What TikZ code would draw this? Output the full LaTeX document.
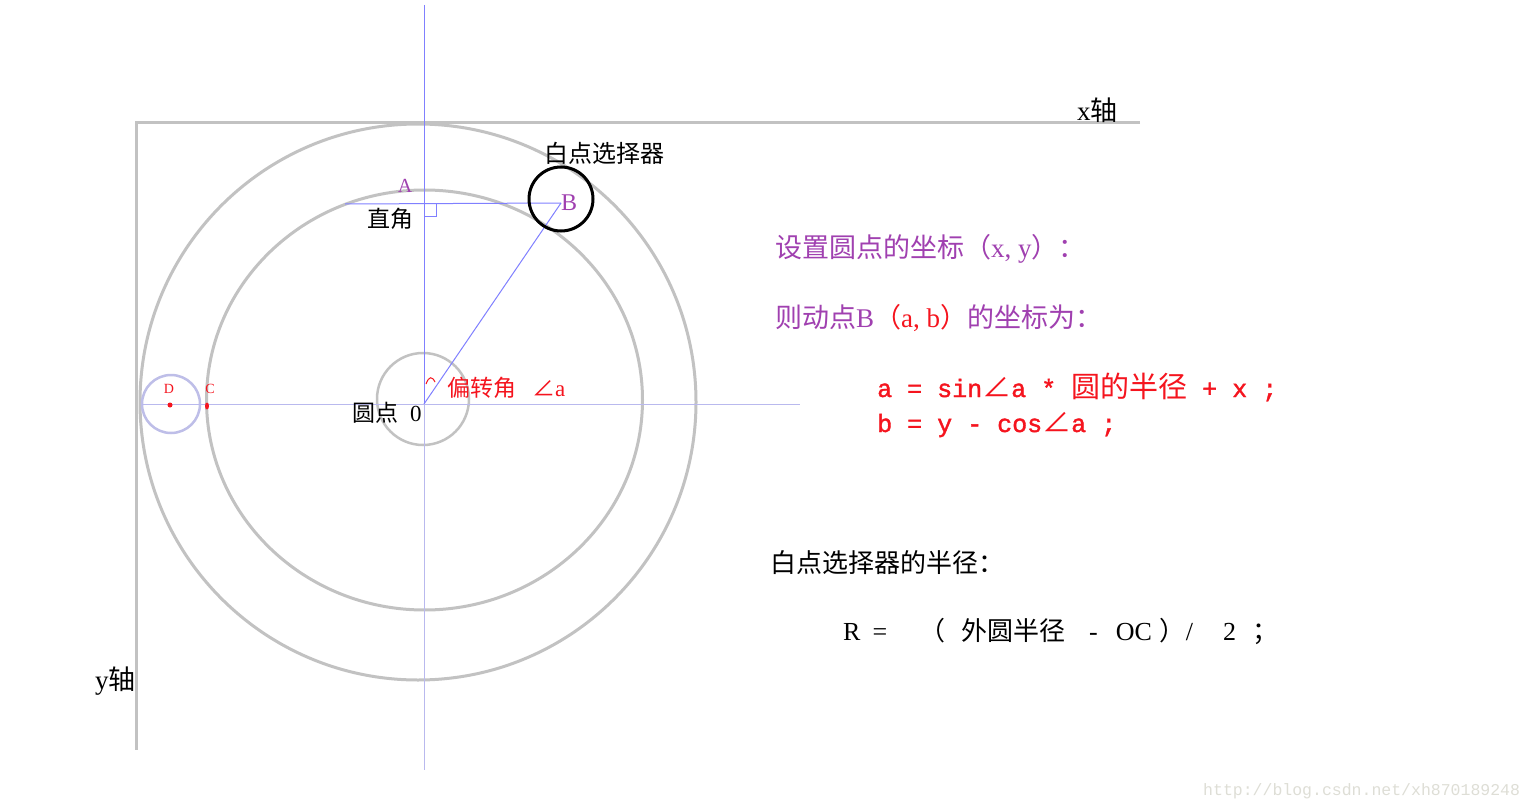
\documentclass[tikz,border=0pt]{standalone}
\usepackage{fontspec}
\setmainfont{Liberation Serif}
\setmonofont{Liberation Mono}
\newfontfamily\formfont{Liberation Mono}[FakeBold=1.5]
\newfontfamily\cjk{Noto Sans CJK SC}
\usetikzlibrary{shapes.geometric}
\definecolor{axisgray}{RGB}{194,194,194}
\definecolor{blueline}{RGB}{128,128,255}
\definecolor{lightblue}{RGB}{185,185,238}
\definecolor{lavcirc}{RGB}{190,190,232}
\definecolor{purp}{RGB}{160,64,176}
\definecolor{redt}{RGB}{245,20,30}
\definecolor{wmark}{RGB}{222,222,214}
\newcommand\cjt[1]{{\cjk #1}}
\tikzset{
  grayline/.style={draw=axisgray,line width=3pt},
  ringc/.style={circle,draw=axisgray,line width=3pt,inner sep=0pt,fill=none},
  thin blue/.style={draw=blueline,line width=1pt},
  thin light/.style={draw=lightblue,line width=1pt},
  lbl/.style={inner sep=0pt,anchor=base west},
  lblc/.style={inner sep=0pt,anchor=base},
  reddot/.style={fill=redt,draw=none,inner sep=0pt}
}
\begin{document}
\begin{tikzpicture}[x=1pt,y=-1pt]
\useasboundingbox[fill=white] (0,0) rectangle (1535,808);
% key points
\coordinate (O) at (424,404);
\coordinate (B) at (561,203);
\coordinate (Sc) at (561,199);
\coordinate (Vtop) at (424,5);
\coordinate (Vbot) at (424,770);
\coordinate (Hl) at (142,404);
\coordinate (Hr) at (800,404);
\coordinate (Hs) at (345,204);
\coordinate (RA1) at (424,216);
\coordinate (RA2) at (436,216);
\coordinate (RA3) at (436,204);
\coordinate (XA0) at (136,122);
\coordinate (XA1) at (1140,122);
\coordinate (YA1) at (136,750);
% axes
\draw[grayline] (XA1) -- (XA0) -- (YA1);
% circles
\node[ringc,minimum size=556pt] (outer) at (418,402) {};
\node[ellipse,draw=axisgray,line width=3pt,inner sep=0pt,minimum width=436pt,minimum height=420pt] (mid) at (424.5,400) {};
\node[ringc,minimum size=92pt,line width=2.5pt] (inner) at (423,399) {};
\node[circle,draw=lavcirc,line width=2.5pt,inner sep=0pt,minimum size=58pt] (dcirc) at (171,404) {};
% blue lines
\draw[thin blue] (Vtop) -- (O);
\draw[thin light] (O) -- (Vbot);
\draw[thin light] (Hl) -- (Hr);
\draw[thin blue] (Hs) -- (B);
\draw[thin blue] (O) -- (B);
\draw[thin blue] (RA1) -- (RA2) -- (RA3);
% angle mark
\coordinate (am1) at (426,384);
\coordinate (am2) at (435,382);
\draw[redt,line width=1pt] (am1) .. controls (429,376) and (432,376) .. (am2);
% selector circle
\node[circle,draw=black,line width=3pt,inner sep=0pt,minimum size=64pt] (sel) at (Sc) {};
% red dots
\node[reddot,circle,minimum size=5pt] (Ddot) at (170,405) {};
\node[reddot,ellipse,minimum width=4pt,minimum height=7pt] (Cdot) at (207,406) {};
% labels in diagram
\node[lblc,font=\cjk\fontsize{24}{28}\selectfont] (tsel) at (604,162) {白点选择器};
\node[lblc,text=purp,font=\fontsize{20}{24}\selectfont] (tA) at (405,192) {A};
\node[lblc,text=purp,font=\fontsize{24}{28}\selectfont] (tB) at (569,210) {B};
\node[lblc,font=\cjk\fontsize{23}{27}\selectfont] (tzj) at (390,227) {直角};
\node[lbl,text=redt,font=\fontsize{23}{27}\selectfont] (tang) at (447,396) {\cjt{偏转角}\hspace{16pt}\cjt{∠}a};
\node[lbl,font=\fontsize{23}{27}\selectfont] (tO) at (352,421) {\cjt{圆点}\hspace{12pt}0};
\node[lblc,text=redt,font=\fontsize{14}{16}\selectfont] (tD) at (169,393) {D};
\node[lblc,text=redt,font=\fontsize{14}{16}\selectfont] (tC) at (210,393) {C};
\node[lbl,font=\fontsize{27}{30}\selectfont] (tx) at (1077,121) {x\cjt{轴}};
\node[lbl,font=\fontsize{27}{30}\selectfont] (ty) at (95,689) {y\cjt{轴}};
% right texts
\node[lbl,text=purp,font=\fontsize{27}{30}\selectfont] (t1) at (775,257) {\cjt{设置圆点的坐标（}x, y\cjt{）：}};
\node[lbl,text=purp,font=\fontsize{27}{30}\selectfont] (t2) at (775,327) {\cjt{则动点}B{\color{redt}\cjt{（}a, b\cjt{）}}\cjt{的坐标为：}};
\node[lbl,text=redt,font=\formfont\fontsize{25}{28}\selectfont] (f1) at (877,397) {a = sin{\cjk\fontsize{29}{30}\selectfont ∠}a * {\cjk\fontsize{29}{30}\selectfont 圆的半径} + x ;};
\node[lbl,text=redt,font=\formfont\fontsize{25}{28}\selectfont] (f2) at (877,432) {b = y - cos{\cjk\fontsize{29}{30}\selectfont ∠}a ;};
\node[lbl,font=\fontsize{26}{30}\selectfont] (t3) at (770,572) {\cjt{白点选择器的半径：}};
\node[lbl,font=\fontsize{26}{30}\selectfont] (t4) at (843,640) {R\hspace{12pt}=\hspace{32pt}\cjt{（}\hspace{16pt}\cjt{外圆半径}\hspace{24pt}-\hspace{18pt}OC\hspace{8pt}\cjt{）}/\hspace{30pt}2\hspace{16pt}\cjt{；}};
% watermark
\node[lbl,text=wmark,font=\ttfamily\fontsize{16.5}{18}\selectfont] (wm) at (1203,795) {http://blog.csdn.net/xh870189248};
\end{tikzpicture}
\end{document}
